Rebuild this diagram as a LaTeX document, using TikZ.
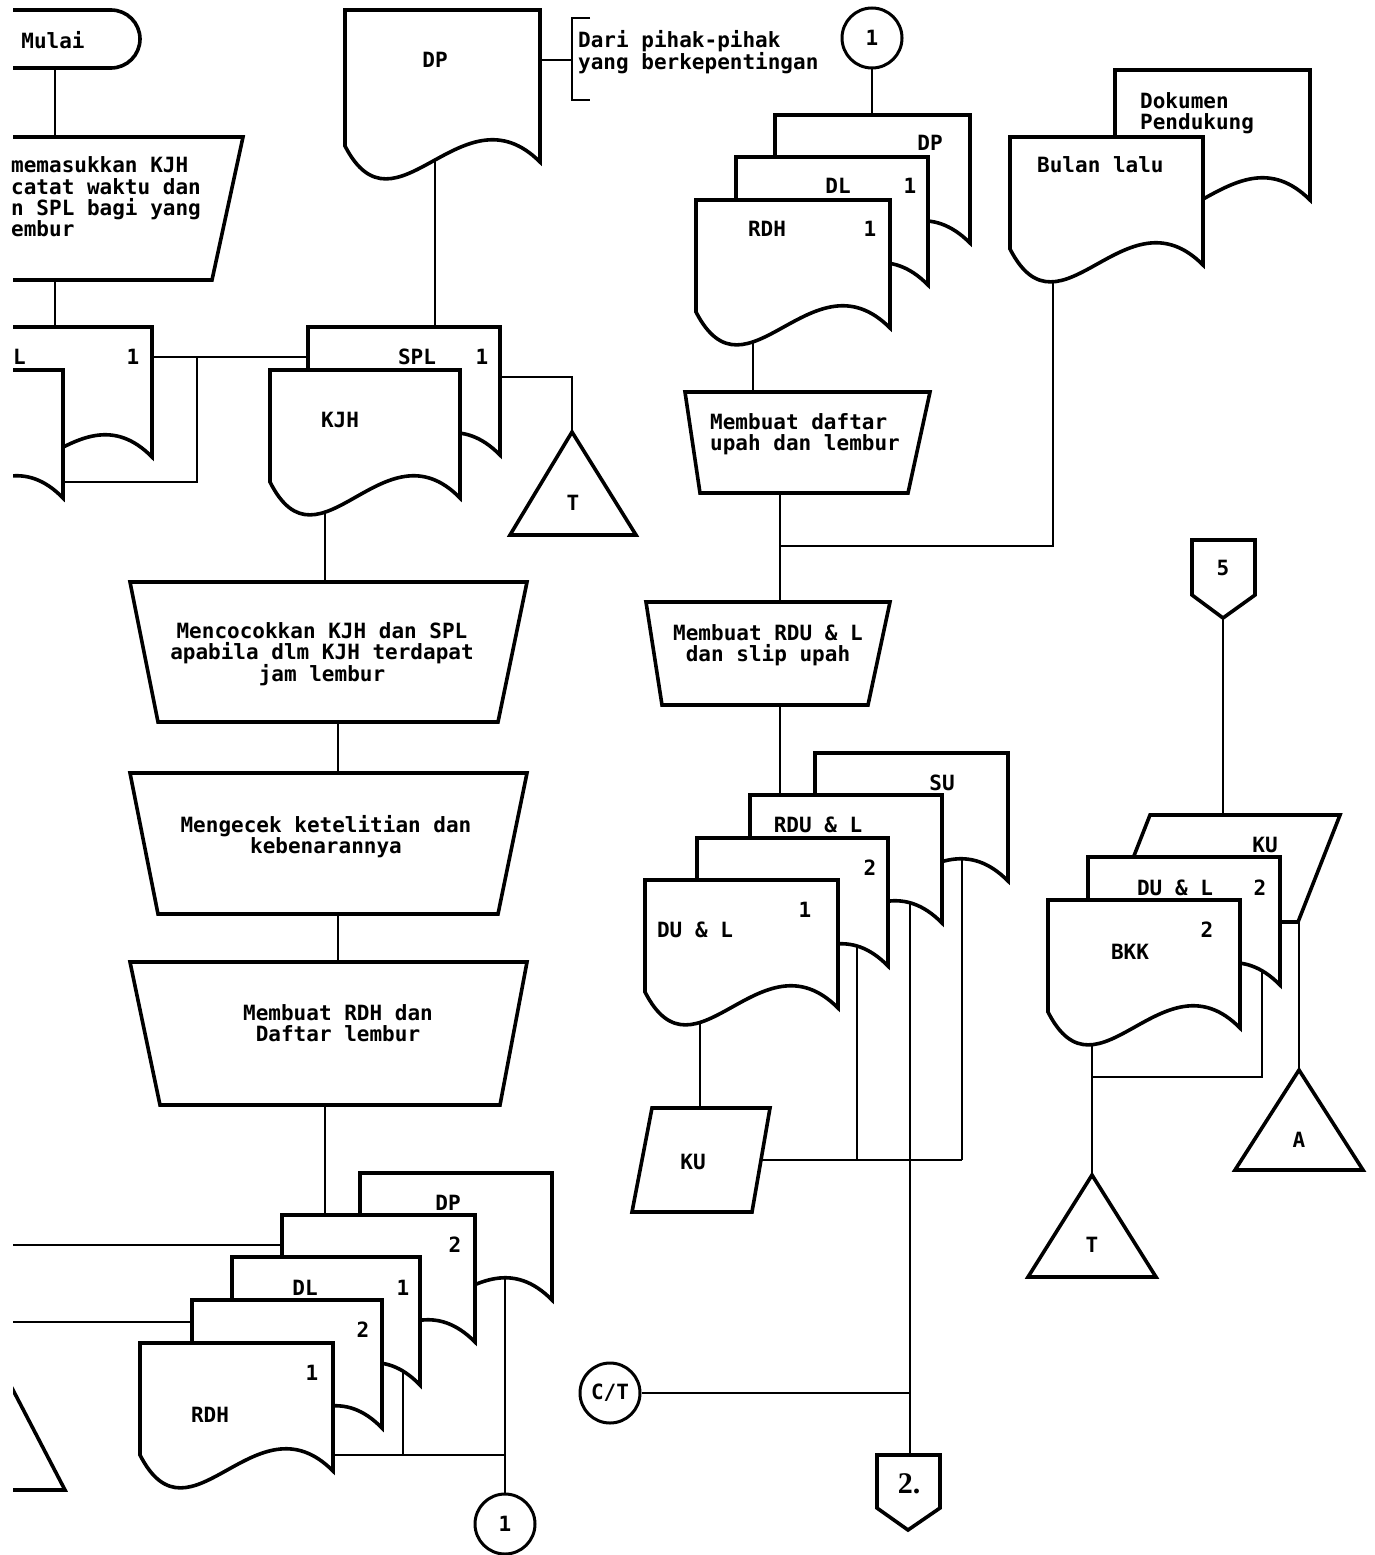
\documentclass[tikz,border=0pt]{standalone}
\usepackage{fontspec}
\newfontfamily\dm{DejaVu Sans Mono}
\newfontfamily\ser{Liberation Serif}
\usetikzlibrary{calc}
\pgfdeclarelayer{bg}
\pgfsetlayers{bg,main}
\tikzset{
 shp/.style={draw=black, line width=3.6pt, fill=white},
 con/.style={draw=black, line width=1.6pt},
 lbl/.style={font=\dm\bfseries\fontsize{21}{21}\selectfont, inner sep=0pt, text=black},
 mtxt/.style={lbl, align=center},
 ltxt/.style={lbl, align=left},
 circ/.style={lbl, circle, draw=black, line width=3pt, fill=white, minimum size=60pt},
 pics/docu/.style n args={2}{code={
   \draw[shp] (0,0) -- (#1,0) -- (#1,#2)
     .. controls ({0.6*(#1)},{#2-78}) and ({0.26*(#1)},{#2+82}) .. (0,{#2-16}) -- cycle;
   \coordinate (-low) at ({0.25*(#1)},{#2+14});
 }},
}
\begin{document}
\begin{tikzpicture}[x=1pt,y=-1pt]
\useasboundingbox (0,0) rectangle (1374,1555);
\begin{scope}
\clip (13,0) rectangle (1374,1555);
% ---------- left column (cut by the page edge) ----------
\draw[shp] (-40,10) -- (111,10) arc[start angle=-90,end angle=90,radius=29] -- (-40,68) -- cycle;
\draw[shp] (-40,137) -- (243,137) -- (212,280) -- (-40,280) -- cycle;
\pic (ls1) at (-40,327) {docu={192}{130}};
\pic (ls2) at (-127,370) {docu={190}{128}};
\draw[shp] (-40,1288) -- (65,1490) -- (-150,1490) -- cycle;
% ---------- DP top ----------
\pic (dpt) at (345,10) {docu={195}{152}};
\draw[con] (590,18) -- (572,18) -- (572,100) -- (590,100);
% ---------- SPL / KJH ----------
\pic (spl) at (308,327) {docu={192}{128}};
\pic (kjh) at (270,370) {docu={190}{128}};
\draw[shp] (572,432) -- (636,535) -- (510,535) -- cycle;
% ---------- manual operations ----------
\draw[shp] (130,582) -- (527,582) -- (498,722) -- (158,722) -- cycle;
\draw[shp] (130,773) -- (527,773) -- (498,914) -- (158,914) -- cycle;
\draw[shp] (130,962) -- (527,962) -- (500,1105) -- (160,1105) -- cycle;
% ---------- bottom stack ----------
\pic (bdp) at (360,1173) {docu={192}{127}};
\pic (b2a) at (282,1215) {docu={193}{127}};
\pic (bdl) at (232,1257) {docu={188}{128}};
\pic (b2b) at (192,1300) {docu={190}{128}};
\pic (brdh) at (140,1343) {docu={193}{128}};
% ---------- middle column ----------
\pic (mdp) at (775,115) {docu={195}{128}};
\pic (mdl) at (736,157) {docu={192}{128}};
\pic (mrdh) at (696,200) {docu={194}{128}};
\draw[shp] (685,392) -- (930,392) -- (908,493) -- (700,493) -- cycle;
\draw[shp] (646,602) -- (890,602) -- (868,705) -- (662,705) -- cycle;
\pic (msu) at (815,753) {docu={193}{128}};
\pic (mrdu) at (750,795) {docu={192}{128}};
\pic (m2d) at (697,838) {docu={191}{128}};
\pic (mdul) at (645,880) {docu={193}{128}};
\draw[shp] (652,1108) -- (770,1108) -- (752,1212) -- (632,1212) -- cycle;
\draw[shp] (877,1455) -- (940,1455) -- (940,1508) -- (908,1530) -- (877,1508) -- cycle;
% ---------- right column ----------
\pic (dok) at (1115,70) {docu={195}{130}};
\pic (bul) at (1010,137) {docu={193}{128}};
\draw[shp] (1192,540) -- (1255,540) -- (1255,595) -- (1223,618) -- (1192,595) -- cycle;
\draw[shp] (1150,815) -- (1340,815) -- (1298,922) -- (1108,922) -- cycle;
\pic (rdul) at (1088,857) {docu={192}{128}};
\pic (bkk) at (1048,900) {docu={192}{128}};
\draw[shp] (1092,1175) -- (1156,1277) -- (1028,1277) -- cycle;
\draw[shp] (1299,1070) -- (1363,1170) -- (1235,1170) -- cycle;
\end{scope}
% ---------- texts ----------
\node[lbl] (mulai) at (53,40) {Mulai};
\node[lbl,anchor=base west] (in1) at (11,172) {memasukkan KJH};
\node[lbl,anchor=base west] (in2) at (11,194) {catat waktu dan};
\node[lbl,anchor=base west] (in3) at (11,215) {n SPL bagi yang};
\node[lbl,anchor=base west] (in4) at (11,236) {embur};
\node[lbl,anchor=base west] (ls1a) at (13,364) {L};
\node[lbl] (ls1b) at (133,357) {1};
\node[lbl] (dptl) at (435,60) {DP};
\node[ltxt,anchor=north west] (dari) at (578,30) {Dari pihak-pihak\\yang berkepentingan};
\node[lbl] (spla) at (417,357) {SPL};
\node[lbl] (splb) at (482,357) {1};
\node[lbl] (kjha) at (340,420) {KJH};
\node[lbl] (t1) at (573,503) {T};
\node[mtxt] (m1) at (322,654) {Mencocokkan KJH dan SPL\\apabila dlm KJH terdapat\\jam lembur};
\node[mtxt] (m2) at (326,837) {Mengecek ketelitian dan\\kebenarannya};
\node[mtxt] (m3) at (338,1023) {Membuat RDH dan\\Daftar lembur};
\node[lbl] (bdpl) at (448,1203) {DP};
\node[lbl] (b2al) at (455,1245) {2};
\node[lbl] (bdll) at (305,1288) {DL};
\node[lbl] (bdln) at (403,1288) {1};
\node[lbl] (b2bl) at (363,1330) {2};
\node[lbl] (brdhn) at (312,1373) {1};
\node[lbl] (brdhl) at (210,1415) {RDH};
\node[circ] (c1b) at (505,1524) {1};
\node[circ] (c1t) at (872,38) {1};
\node[lbl] (mdpl) at (930,143) {DP};
\node[lbl] (mdll) at (838,186) {DL};
\node[lbl] (mdln) at (910,186) {1};
\node[lbl] (mrdhl) at (767,229) {RDH};
\node[lbl] (mrdhn) at (870,229) {1};
\node[ltxt,anchor=north west] (m4) at (710,413) {Membuat daftar\\upah dan lembur};
\node[mtxt] (m5) at (768,645) {Membuat RDU \& L\\dan slip upah};
\node[lbl] (msul) at (942,783) {SU};
\node[lbl] (mrdul) at (818,825) {RDU \& L};
\node[lbl] (m2dl) at (870,868) {2};
\node[lbl] (mduln) at (805,910) {1};
\node[lbl] (mdull) at (695,930) {DU \& L};
\node[lbl] (ku1) at (693,1162) {KU};
\node[circ] (ct) at (610,1393) {C/T};
\node[font=\ser\bfseries\fontsize{30}{30}\selectfont, inner sep=0pt] (p2) at (909,1484) {2.};
\node[ltxt,anchor=north west] (dokt) at (1140,92) {Dokumen\\Pendukung};
\node[lbl,anchor=base west] (bult) at (1037,172) {Bulan lalu};
\node[lbl] (p5) at (1223,568) {5};
\node[lbl] (ku2) at (1265,845) {KU};
\node[lbl] (rdull) at (1175,888) {DU \& L};
\node[lbl] (rduln) at (1260,888) {2};
\node[lbl] (bkkn) at (1207,930) {2};
\node[lbl] (bkkl) at (1130,952) {BKK};
\node[lbl] (t2) at (1092,1245) {T};
\node[lbl] (a1) at (1299,1140) {A};
% ---------- named connector points ----------
\coordinate (mulaiB) at (55,60);
\coordinate (inT) at (55,137);
\coordinate (inB) at (55,270);
\coordinate (ls1T) at (55,340);
\coordinate (ls1R) at (140,357);
\coordinate (splL) at (320,357);
\coordinate (j1) at (197,357);
\coordinate (j2) at (197,482);
\coordinate (ls2R) at (50,482);
\coordinate (dptR) at (530,60);
\coordinate (brM) at (572,60);
\coordinate (dptB) at (435,140);
\coordinate (splT) at (435,340);
\coordinate (splR) at (490,377);
\coordinate (t1A) at (572,440);
\coordinate (kjhB) at (325,500);
\coordinate (m1T) at (325,590);
\coordinate (m1B) at (338,715);
\coordinate (m2T) at (338,780);
\coordinate (m2B) at (338,905);
\coordinate (m3T) at (338,970);
\coordinate (m3B) at (325,1095);
\coordinate (b2aT) at (325,1225);
\coordinate (bl1) at (-10,1245);
\coordinate (b2aL) at (295,1245);
\coordinate (bl2) at (-10,1322);
\coordinate (b2bL) at (205,1322);
\coordinate (brdhR) at (320,1455);
\coordinate (jb) at (505,1455);
\coordinate (bdlW) at (403,1360);
\coordinate (jbb) at (403,1455);
\coordinate (bdpW) at (505,1270);
\coordinate (mdpT) at (872,130);
\coordinate (mrdhB) at (753,320);
\coordinate (m4T) at (753,400);
\coordinate (m4B) at (780,485);
\coordinate (m5T) at (780,610);
\coordinate (jm) at (780,546);
\coordinate (jm2) at (1053,546);
\coordinate (bulB) at (1053,260);
\coordinate (m5B) at (780,700);
\coordinate (mrduT) at (780,810);
\coordinate (mdulB) at (700,1000);
\coordinate (ku1T) at (700,1115);
\coordinate (ku1R) at (755,1160);
\coordinate (jk3) at (962,1160);
\coordinate (jk1) at (857,1160);
\coordinate (m2dW) at (857,930);
\coordinate (msuW) at (962,850);
\coordinate (mrduW) at (910,890);
\coordinate (p2T) at (910,1460);
\coordinate (jct) at (910,1393);
\coordinate (p5B) at (1223,610);
\coordinate (ku2T) at (1223,825);
\coordinate (rdulR) at (1270,922);
\coordinate (ku2B) at (1299,922);
\coordinate (aA) at (1299,1078);
\coordinate (bkkB) at (1092,1030);
\coordinate (t2A) at (1092,1183);
\coordinate (jr1) at (1092,1077);
\coordinate (jr2) at (1262,1077);
\coordinate (rdulW) at (1262,960);
% ---------- connectors (behind shapes) ----------
\begin{pgfonlayer}{bg}
\fill[white] (0,0) rectangle (1374,1555);
\clip (13,0) rectangle (1374,1555);
\draw[con] (mulaiB) -- (inT);
\draw[con] (inB) -- (ls1T);
\draw[con] (ls1R) -- (splL);
\draw[con] (j1) -- (j2) -- (ls2R);
\draw[con] (dptR) -- (brM);
\draw[con] (dptB) -- (splT);
\draw[con] (splR) -| (t1A);
\draw[con] (kjhB) -- (m1T);
\draw[con] (m1B) -- (m2T);
\draw[con] (m2B) -- (m3T);
\draw[con] (m3B) -- (b2aT);
\draw[con] (bl1) -- (b2aL);
\draw[con] (bl2) -- (b2bL);
\draw[con] (brdhR) -- (jb);
\draw[con] (bdlW) -- (jbb);
\draw[con] (bdpW) -- (c1b.north);
\draw[con] (c1t.south) -- (mdpT);
\draw[con] (mrdhB) -- (m4T);
\draw[con] (m4B) -- (m5T);
\draw[con] (jm) -- (jm2) -- (bulB);
\draw[con] (m5B) -- (mrduT);
\draw[con] (mdulB) -- (ku1T);
\draw[con] (ku1R) -- (jk3);
\draw[con] (m2dW) -- (jk1);
\draw[con] (msuW) -- (jk3);
\draw[con] (mrduW) -- (p2T);
\draw[con] (ct.east) -- (jct);
\draw[con] (p5B) -- (ku2T);
\draw[con] (rdulR) -- (ku2B) -- (aA);
\draw[con] (bkkB) -- (t2A);
\draw[con] (jr1) -- (jr2) -- (rdulW);
\end{pgfonlayer}
\end{tikzpicture}
\end{document}
